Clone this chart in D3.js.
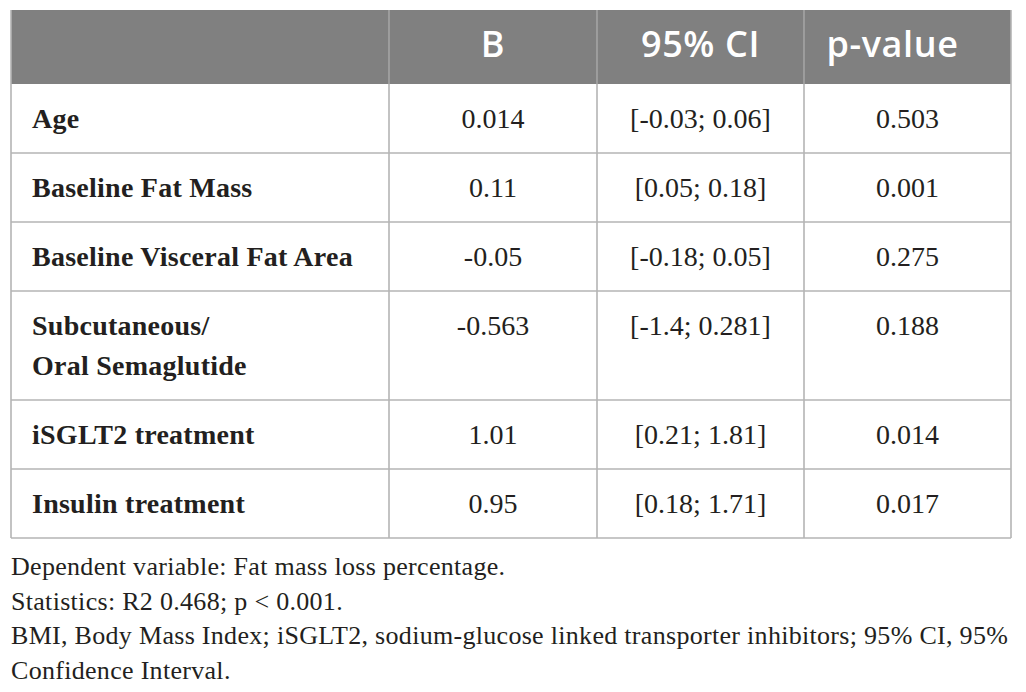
<!DOCTYPE html>
<html>
<head>
<meta charset="utf-8">
<script src="https://cdn.jsdelivr.net/npm/d3@7"></script>
<style>
  body { margin: 0; background: #fff; }
</style>
</head>
<body>
<div id="table"></div>
<script>
// table content
var headers = ["", "B", "95% CI", "p-value"];
var labels = [["Age"], ["Baseline Fat Mass"], ["Baseline Visceral Fat Area"],
              ["Subcutaneous/", "Oral Semaglutide"], ["iSGLT2 treatment"], ["Insulin treatment"]];
var bValues = ["0.014", "0.11", "-0.05", "-0.563", "1.01", "0.95"];
var ciValues = ["[-0.03; 0.06]", "[0.05; 0.18]", "[-0.18; 0.05]", "[-1.4; 0.281]", "[0.21; 1.81]", "[0.18; 1.71]"];
var pValues = ["0.503", "0.001", "0.275", "0.188", "0.014", "0.017"];
var notes = ["Dependent variable: Fat mass loss percentage.",
             "Statistics: R2 0.468; p < 0.001.",
             "BMI, Body Mass Index; iSGLT2, sodium-glucose linked transporter inhibitors; 95% CI, 95%",
             "Confidence Interval."];

var w = 1026, h = 692;
var svg = d3.select("#table").append("svg").attr("width", w).attr("height", h);

// column edges
var colEdges = [11, 389, 597, 804, 1011];
var headTop = 10, headH = 74;
var rowH = 69, lineH = 40;

// row tops from the number of label lines
var rowTops = [];
var y = headTop + headH;
labels.forEach(function(l) { rowTops.push(y); y += rowH + lineH * (l.length - 1); });
var tableBottom = y;

var serif = "'Liberation Serif', 'DejaVu Serif', serif";
var sans = "'Open Sans', 'Noto Sans', sans-serif";
var ink = "#231f20";
var lineColor = "#b4b4b4";

// header band
svg.append("rect")
  .attr("x", colEdges[0]).attr("y", headTop)
  .attr("width", colEdges[4] - colEdges[0]).attr("height", headH)
  .attr("fill", "#808080");

svg.selectAll("text.head")
  .data(headers)
  .enter().append("text")
  .attr("class", "head")
  // last header sits a little left of centre in the original
  .attr("x", (d, i) => (colEdges[i] + colEdges[i + 1]) / 2 - (i == 3 ? 15 : 0))
  .attr("y", headTop + 47)
  .attr("text-anchor", "middle")
  .attr("font-family", sans)
  .attr("font-weight", 600)
  .attr("font-size", 36)
  .attr("letter-spacing", 0.6)
  .attr("fill", "#fff")
  .text(d => d);

// horizontal rules
var hLines = rowTops.slice(1).concat([tableBottom]);
svg.selectAll("line.h")
  .data(hLines)
  .enter().append("line")
  .attr("x1", colEdges[0]).attr("x2", colEdges[4])
  .attr("y1", d => d).attr("y2", d => d)
  .attr("stroke", lineColor).attr("stroke-width", 1.6);

// vertical rules
svg.selectAll("line.v")
  .data(colEdges)
  .enter().append("line")
  .attr("x1", d => d).attr("x2", d => d)
  .attr("y1", headTop)
  .attr("y2", tableBottom)
  .attr("stroke", lineColor)
  .attr("stroke-width", 1.6);
// lighter dividers inside the header
svg.selectAll("line.vh")
  .data(colEdges.slice(1, 4))
  .enter().append("line")
  .attr("x1", d => d).attr("x2", d => d)
  .attr("y1", headTop).attr("y2", headTop + headH)
  .attr("stroke", "#9a9a9a").attr("stroke-width", 1.6);

// label cells
var labelG = svg.selectAll("text.label")
  .data(labels)
  .enter().append("text")
  .attr("class", "label")
  .attr("font-family", serif)
  .attr("font-weight", "bold")
  .attr("font-size", 28)
  .attr("letter-spacing", 0.25)
  .attr("fill", ink);
labelG.selectAll("tspan")
  .data((d, i) => d.map(s => ({ s: s, top: rowTops[i] })))
  .enter().append("tspan")
  .attr("x", 32)
  .attr("y", (d, j) => d.top + 44 + j * lineH)
  .text(d => d.s);

// value cells
var valueCols = [bValues, ciValues, pValues];
valueCols.forEach(function(vals, c) {
  svg.selectAll("text.val" + c)
    .data(vals)
    .enter().append("text")
    .attr("class", "val" + c)
    .attr("x", (colEdges[c + 1] + colEdges[c + 2]) / 2)
    .attr("y", (d, i) => rowTops[i] + 44)
    .attr("text-anchor", "middle")
    .attr("font-family", serif)
    .attr("font-size", 28)
    .attr("fill", ink)
    .text(d => d);
});

// footnotes
svg.selectAll("text.note")
  .data(notes)
  .enter().append("text")
  .attr("class", "note")
  .attr("x", 11)
  .attr("y", (d, i) => 575 + i * 34.5)
  .attr("font-family", serif)
  .attr("font-size", 26)
  .attr("letter-spacing", 0.3)
  .attr("fill", ink)
  .text(d => d);
</script>
</body>
</html>
